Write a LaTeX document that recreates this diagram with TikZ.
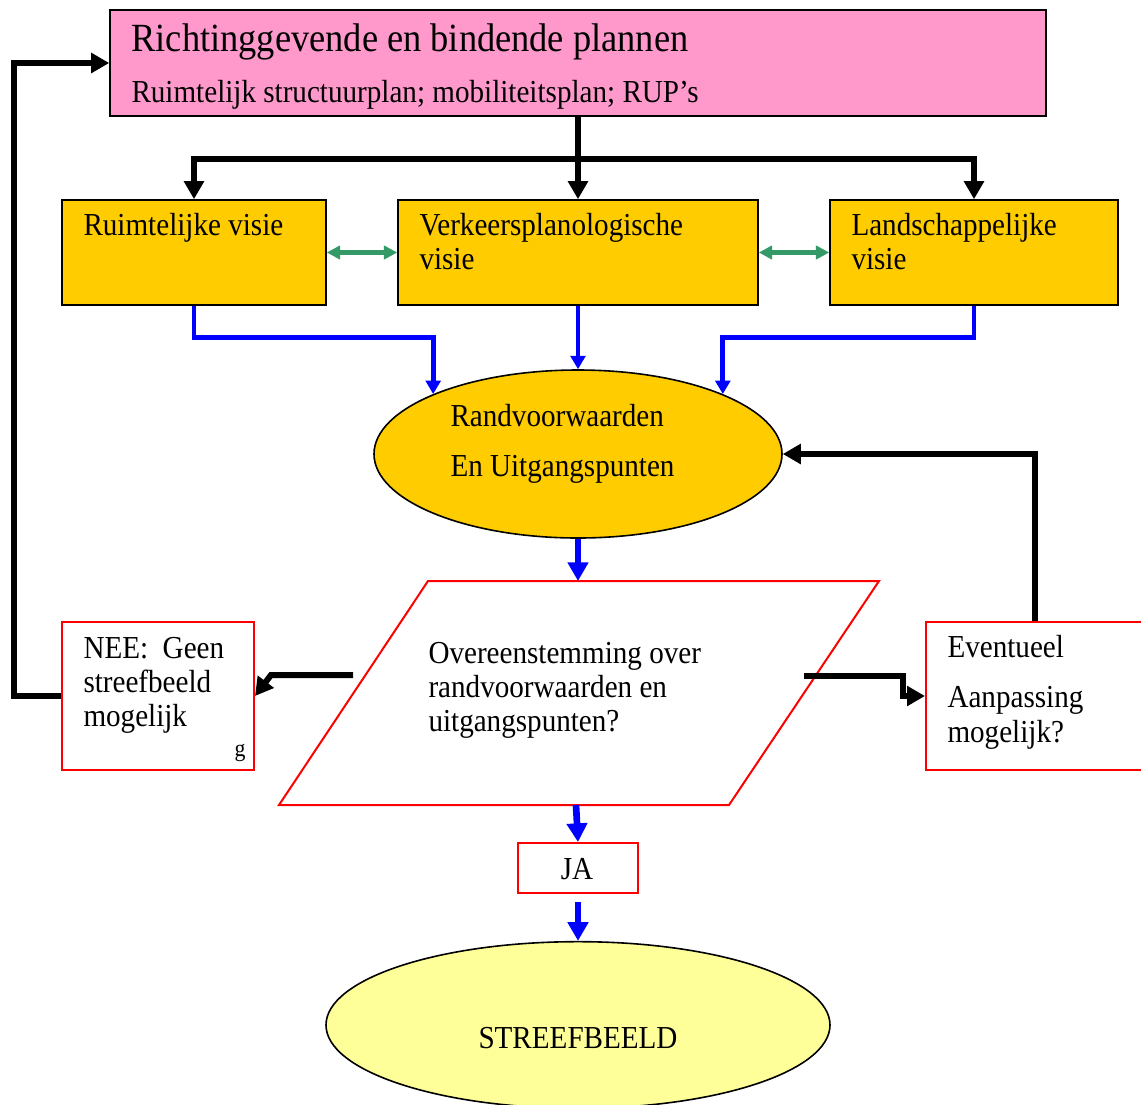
\documentclass[tikz,border=0pt]{standalone}
\usepackage{fontspec}
\setmainfont{Liberation Serif}[FakeStretch=0.91]
\usetikzlibrary{arrows.meta,shapes.geometric}

\definecolor{pinkfill}{RGB}{255,153,204}
\definecolor{goldfill}{RGB}{255,204,0}
\definecolor{paleyellow}{RGB}{255,255,153}
\definecolor{seagreen}{RGB}{51,153,102}

\tikzset{every picture/.style={line width=0.75pt}}
\tikzset{
	boxtext/.style={anchor=base west, inner sep=0pt, font=\fontsize{24}{26}\selectfont},
	visiebox/.style={draw=black, line width=1.2pt, fill=goldfill, minimum height=78.75pt, inner sep=0pt},
	redbox/.style={draw=red, line width=1.5pt, fill=white, inner sep=0pt},
	blackflow/.style={line width=4.5pt, -{Triangle[length=13.5pt,width=14.5pt]}},
	blueflow/.style={blue, line width=3.5pt, -{Triangle[length=10pt,width=11pt]}},
	bluethick/.style={blue, line width=5pt, -{Triangle[length=14pt,width=15pt]}},
	greenflow/.style={seagreen, line width=3.2pt, {Triangle[length=10pt,width=10pt]}-{Triangle[length=10pt,width=10pt]}}
}

\begin{document}
\begin{tikzpicture}[x=0.75pt,y=0.75pt,yscale=-1,xscale=1]
	\useasboundingbox (0,0) rectangle (1141,1104);

	%Shapes
	\node[draw=black, line width=1.2pt, fill=pinkfill, minimum width=702pt, minimum height=79.5pt, inner sep=0pt] (plans) at (578,63) {};
	\node[visiebox, minimum width=198pt] (ruimte) at (194,252.5) {};
	\node[visiebox, minimum width=270pt] (verkeer) at (578,252.5) {};
	\node[visiebox, minimum width=216pt] (landsch) at (974,252.5) {};
	\node[ellipse, draw=black, line width=1.2pt, fill=goldfill, minimum width=306pt, minimum height=126pt, inner sep=0pt] (rand) at (578,454) {};
	%Parallelogram
	\coordinate (ovnw) at (428,581);
	\coordinate (ovne) at (879,581);
	\coordinate (ovse) at (729,805);
	\coordinate (ovsw) at (279,805);
	\draw[red, line width=1.5pt, fill=white] (ovnw) -- (ovne) -- (ovse) -- (ovsw) -- cycle;
	\coordinate (ovtop) at (578,581);
	\coordinate (ovbot) at (576,805);
	\coordinate (ovleft) at (353,675);
	\coordinate (ovright) at (804,676);
	\node[redbox, minimum width=144pt, minimum height=111pt] (nee) at (158,696) {};
	\node[redbox, minimum width=163.5pt, minimum height=111pt] (event) at (1035,696) {};
	\node[redbox, minimum width=90pt, minimum height=37.5pt] (ja) at (578,868) {};
	\node[ellipse, draw=black, line width=1.2pt, fill=paleyellow, minimum width=378pt, minimum height=125pt, inner sep=0pt] (streef) at (578,1025) {};

	%Black connectors
	\draw[blackflow] (plans.south) -- (verkeer.north);
	\draw (plans.south) ++(0,42) coordinate (split);
	\draw[blackflow] (split) -| (ruimte.north);
	\draw[blackflow] (split) -| (landsch.north);
	\draw[blackflow] (ovleft) -- ++(-82,0) -- (nee.east);
	\draw[blackflow] (ovright) -- ++(99,0) |- (event.west);
	\draw[blackflow] (nee.west) -- ++(-47,0) |- (plans.west);
	\draw[blackflow] (event.north) |- (rand.east);

	%Green connectors
	\draw[greenflow] (ruimte.east) -- (verkeer.west);
	\draw[greenflow] (verkeer.east) -- (landsch.west);

	%Blue connectors
	\draw[blueflow] (ruimte.south) -- ++(0,32) -| (rand.north west);
	\draw[blueflow] (verkeer.south) -- (rand.north);
	\draw[blueflow] (landsch.south) -- ++(0,32) -| (rand.north east);
	\draw[bluethick] (rand.south) -- (ovtop);
	\draw[bluethick] (ovbot) -- (ja.north);
	\draw[bluethick, shorten <=6pt] (ja.south) -- (streef.north);

	% Text Node
	\node[boxtext, font=\fontsize{30}{32}\selectfont] (tplans) at (131,51) {Richtinggevende en bindende plannen};
	% Text Node
	\node[boxtext] (tplanssub) at (131,102) {Ruimtelijk structuurplan; mobiliteitsplan; RUP’s};
	% Text Node
	\node[boxtext] (truimte) at (83,235) {Ruimtelijke visie};
	% Text Node
	\node[boxtext] (tverkeer) at (419,235) {Verkeersplanologische};
	% Text Node
	\node[boxtext] (tverkeerb) at (419,269) {visie};
	% Text Node
	\node[boxtext] (tlandsch) at (851,235) {Landschappelijke};
	% Text Node
	\node[boxtext] (tlandschb) at (851,269) {visie};
	% Text Node
	\node[boxtext] (trand) at (450,426) {Randvoorwaarden};
	% Text Node
	\node[boxtext] (trandb) at (450,476) {En Uitgangspunten};
	% Text Node
	\node[boxtext] (tover) at (428,663) {Overeenstemming over};
	% Text Node
	\node[boxtext] (toverb) at (428,697) {randvoorwaarden en};
	% Text Node
	\node[boxtext] (toverc) at (428,731) {uitgangspunten?};
	% Text Node
	\node[boxtext] (tnee) at (83,658) {NEE:\ \ Geen};
	% Text Node
	\node[boxtext] (tneeb) at (83,692) {streefbeeld};
	% Text Node
	\node[boxtext] (tneec) at (83,726) {mogelijk};
	% Text Node
	\node[boxtext, font=\fontsize{18}{20}\selectfont] (tneeg) at (234,756) {g};
	% Text Node
	\node[boxtext] (tevent) at (947,657) {Eventueel};
	% Text Node
	\node[boxtext] (teventb) at (947,707) {Aanpassing};
	% Text Node
	\node[boxtext] (teventc) at (947,742) {mogelijk?};
	% Text Node
	\node[boxtext, anchor=base] (tja) at (577,879) {JA};
	% Text Node
	\node[boxtext, anchor=base] (tstreef) at (578,1048) {STREEFBEELD};

\end{tikzpicture}
\end{document}
